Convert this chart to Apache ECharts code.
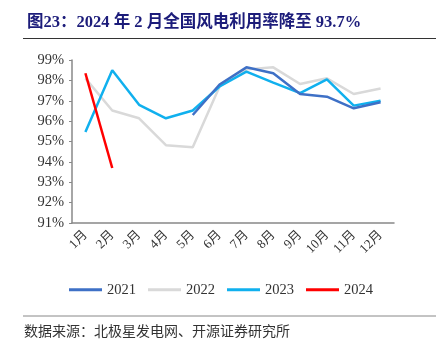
<!DOCTYPE html>
<html>
<head>
<meta charset="utf-8">
<script src="https://cdn.jsdelivr.net/npm/echarts@6/dist/echarts.min.js"></script>
<style>
  html, body { margin: 0; padding: 0; background: #fff; }
  #chart { width: 436px; height: 354px; }
</style>
</head>
<body>
<div id="chart"></div>
<script>
// 月份
const months = ['1月', '2月', '3月', '4月', '5月', '6月', '7月', '8月', '9月', '10月', '11月', '12月']
// 风电利用率 %
const y2021 = [null, null, null, null, 96.3, 97.8, 98.64, 98.35, 97.33, 97.2, 96.63, 96.93]
const y2022 = [98.1, 96.52, 96.14, 94.82, 94.72, 97.7, 98.54, 98.64, 97.82, 98.1, 97.33, 97.6]
const y2023 = [95.47, 98.5, 96.8, 96.14, 96.52, 97.7, 98.43, 97.89, 97.37, 98.05, 96.76, 97.0]
const y2024 = [98.35, 93.7]
const yTicks = [91, 92, 93, 94, 95, 96, 97, 98, 99]

const serif = '"Liberation Serif", "Noto Sans CJK SC", serif'
const chart = echarts.init(document.getElementById('chart'))

function line(name, data, color, z) {
  return {
    name: name,
    type: 'line',
    data: data,
    z: z,
    symbol: 'none',
    smooth: false,
    connectNulls: false,
    lineStyle: { width: 2.5, color: color },
    itemStyle: { color: color }
  }
}

const option = {
  animation: false,
  title: {
    text: '图23：2024 年 2 月全国风电利用率降至 93.7%',
    left: 22,
    top: 9,
    textStyle: { fontFamily: serif, fontSize: 16.5, fontWeight: 'bold', color: '#1c1c7a' }
  },
  graphic: [
    { type: 'line', shape: { x1: 23, y1: 38.5, x2: 436, y2: 38.5 }, style: { stroke: '#333', lineWidth: 1 } },
    { type: 'line', shape: { x1: 23, y1: 316, x2: 436, y2: 316 }, style: { stroke: '#888', lineWidth: 1 } },
    {
      type: 'text', left: 24, top: 324,
      style: { text: '数据来源：北极星发电网、开源证券研究所', font: '14px "Noto Sans CJK SC"', fill: '#333' }
    }
  ],
  legend: {
    bottom: 52,
    left: 64,
    itemGap: 12,
    itemWidth: 33,
    itemHeight: 3,
    icon: 'rect',
    textStyle: { fontFamily: serif, fontSize: 14.5, color: '#333' },
    data: ['2021', '2022', '2023', '2024']
  },
  grid: { left: 72, right: 42, top: 60, bottom: 131, containLabel: false },
  xAxis: {
    type: 'category',
    data: months,
    boundaryGap: true,
    axisLine: { lineStyle: { color: '#888', width: 1.5 } },
    axisTick: { inside: true, length: 4, lineStyle: { color: '#888' } },
    axisLabel: { rotate: 45, fontFamily: serif, fontSize: 13, color: '#333', margin: 10 }
  },
  yAxis: {
    type: 'value',
    min: 91,
    max: 99,
    interval: 1,
    splitLine: { show: false },
    axisLine: { show: true, lineStyle: { color: '#888', width: 1.5 } },
    axisTick: { show: true, length: 3, lineStyle: { color: '#888' } },
    axisLabel: {
      fontFamily: serif, fontSize: 14.5, color: '#333', margin: 8,
      formatter: v => yTicks.includes(v) ? v + '%' : ''
    }
  },
  series: [
    line('2022', y2022, '#d9d9d9', 1),
    line('2021', y2021, '#3e70c6', 3),
    line('2023', y2023, '#10b0ee', 2),
    line('2024', y2024, '#ff0000', 4)
  ]
}
chart.setOption(option)
</script>
</body>
</html>
